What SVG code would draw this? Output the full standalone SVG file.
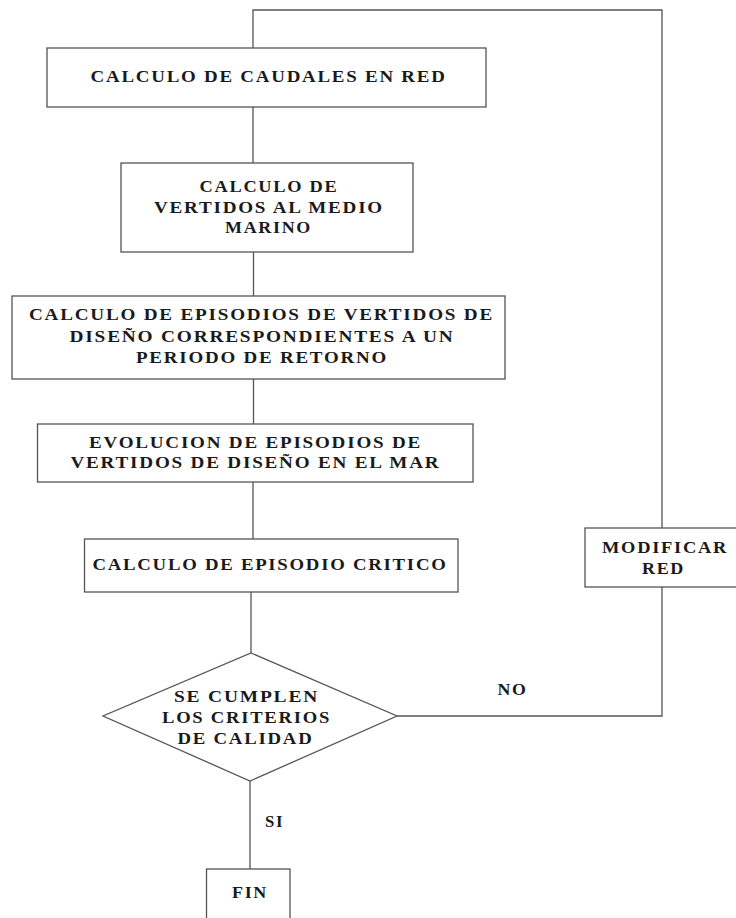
<svg xmlns="http://www.w3.org/2000/svg" width="736" height="918" viewBox="0 0 736 918">
<style>
.box{fill:#fff;stroke:#555;stroke-width:1.3}
.ln{fill:none;stroke:#555;stroke-width:1.3}
text{font-family:"Liberation Serif","Times New Roman",serif;font-weight:bold;font-size:16px;fill:#1a1a1a;letter-spacing:1.5px}
</style>
<rect width="736" height="918" fill="#fff"/>
<g id="connectors">
<polyline class="ln" points="253,48 253,10 662,10 662,528"/>
<line class="ln" x1="253" y1="107" x2="253" y2="163"/>
<line class="ln" x1="253.5" y1="252" x2="253.5" y2="296"/>
<line class="ln" x1="253.5" y1="379" x2="253.5" y2="424"/>
<line class="ln" x1="253" y1="482" x2="253" y2="539"/>
<line class="ln" x1="251" y1="592" x2="251" y2="653"/>
<polyline class="ln" points="397,716 662,716 662,587"/>
<line class="ln" x1="250" y1="781" x2="250" y2="869"/>
<text x="497.6" y="695" textLength="30" lengthAdjust="spacingAndGlyphs">NO</text>
<text x="265" y="827" textLength="19" lengthAdjust="spacingAndGlyphs">SI</text>
</g>
<g id="n1">
<rect class="box" x="47" y="48" width="439" height="59"/>
<text x="90.6" y="82" textLength="356" lengthAdjust="spacingAndGlyphs">CALCULO DE CAUDALES EN RED</text>
</g>
<g id="n2">
<rect class="box" x="121" y="163" width="292" height="89"/>
<text x="199.5" y="192" textLength="139" lengthAdjust="spacingAndGlyphs">CALCULO DE</text>
<text x="154" y="213" textLength="230" lengthAdjust="spacingAndGlyphs">VERTIDOS AL MEDIO</text>
<text x="225" y="233" textLength="87" lengthAdjust="spacingAndGlyphs">MARINO</text>
</g>
<g id="n3">
<rect class="box" x="12" y="296" width="493" height="83"/>
<text x="29" y="320" textLength="465" lengthAdjust="spacingAndGlyphs">CALCULO DE EPISODIOS DE VERTIDOS DE</text>
<text x="69.5" y="342" textLength="385" lengthAdjust="spacingAndGlyphs">DISEÑO CORRESPONDIENTES A UN</text>
<text x="136" y="363" textLength="252" lengthAdjust="spacingAndGlyphs">PERIODO DE RETORNO</text>
</g>
<g id="n4">
<rect class="box" x="37.5" y="424" width="435.5" height="58"/>
<text x="89" y="448" textLength="333" lengthAdjust="spacingAndGlyphs">EVOLUCION DE EPISODIOS DE</text>
<text x="70.4" y="468" textLength="370" lengthAdjust="spacingAndGlyphs">VERTIDOS DE DISEÑO EN EL MAR</text>
</g>
<g id="n5">
<rect class="box" x="84.5" y="539" width="373.5" height="53"/>
<text x="92.5" y="570" textLength="355" lengthAdjust="spacingAndGlyphs">CALCULO DE EPISODIO CRITICO</text>
</g>
<g id="n6">
<rect class="box" x="585" y="528" width="160" height="59"/>
<text x="602" y="553" textLength="126" lengthAdjust="spacingAndGlyphs">MODIFICAR</text>
<text x="642" y="574" textLength="43" lengthAdjust="spacingAndGlyphs">RED</text>
</g>
<g id="n7">
<polygon class="box" points="251,653 397,716 250,781 103,716"/>
<text x="174" y="702" textLength="145" lengthAdjust="spacingAndGlyphs">SE CUMPLEN</text>
<text x="162" y="723" textLength="169" lengthAdjust="spacingAndGlyphs">LOS CRITERIOS</text>
<text x="177.5" y="744" textLength="136" lengthAdjust="spacingAndGlyphs">DE CALIDAD</text>
</g>
<g id="n8">
<rect class="box" x="206.5" y="869" width="83.5" height="60"/>
<text x="232" y="898" textLength="36" lengthAdjust="spacingAndGlyphs">FIN</text>
</g>
</svg>
